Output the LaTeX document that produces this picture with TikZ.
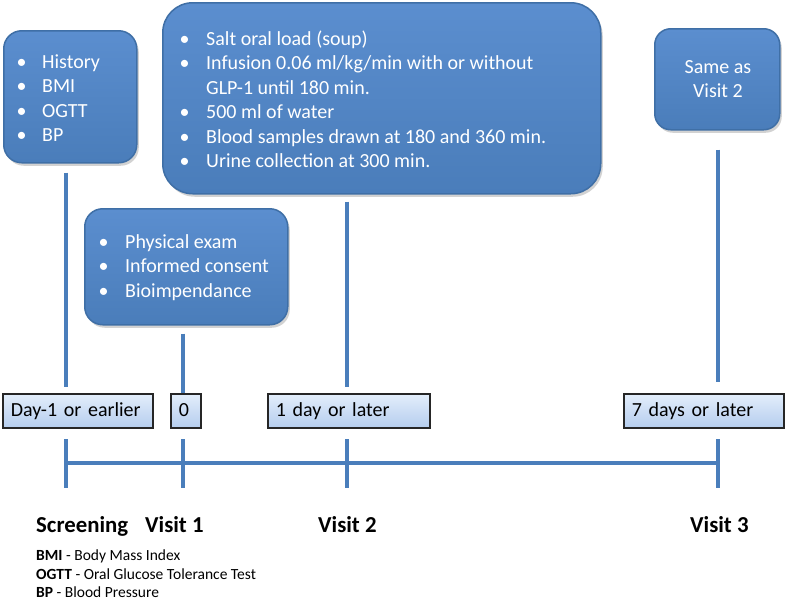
\documentclass[tikz,border=0pt]{standalone}
\usepackage{fontspec}
\setmainfont{Carlito}
\usetikzlibrary{shadows}
\definecolor{boxtop}{HTML}{5B8ECF}
\definecolor{boxbot}{HTML}{4A7DBA}
\definecolor{boxedge}{HTML}{3F6FA6}
\definecolor{linecol}{HTML}{4A7EBB}
\definecolor{labtop}{HTML}{E3EEFB}
\definecolor{labbot}{HTML}{B5CDEE}
\begin{document}
\begin{tikzpicture}[x=1pt,y=-1pt,
  bluebox/.style={draw=boxedge, line width=1.5pt, top color=boxtop, bottom color=boxbot,
    drop shadow={shadow xshift=2pt,shadow yshift=-3pt,opacity=0.35},
    rounded corners=#1, anchor=north west, inner sep=0pt},
  bt/.style={anchor=base west, inner sep=0pt, text=white, font=\fontsize{20}{24.5}\selectfont},
  labbox/.style={draw=black!85, line width=1.6pt, top color=labtop, bottom color=labbot,
    anchor=north west, inner xsep=8pt, inner ysep=0pt, minimum height=34pt,
    text width=#1-16pt, align=left, text height=14pt, text depth=2pt,
    font=\fontsize{20}{24}\selectfont},
  conn/.style={draw=linecol, line width=4pt},
  head/.style={anchor=base west, inner sep=0pt, font=\bfseries\fontsize{22.8}{26}\selectfont},
  leg/.style={anchor=base west, inner sep=0pt, font=\fontsize{15.5}{18}\selectfont}]
\fill[white] (0,0) rectangle (787,600);
\useasboundingbox (0,0) rectangle (787,600);

% blue boxes
\node[bluebox=18pt, minimum width=133pt, minimum height=132pt] (hist) at (3,30) {};
\node[bluebox=30pt, minimum width=438pt, minimum height=191pt] (vis2) at (162,2) {};
\node[bluebox=16pt, minimum width=125pt, minimum height=101pt] (vis3) at (654,28) {};
\node[bluebox=18pt, minimum width=203pt, minimum height=116pt] (phys) at (84,208) {};

% box texts
\node[bt] (histtext) at (16.5,68) {\begin{tabular}[t]{@{}p{25.5pt}@{}l@{}}
\textbullet & History\\ \textbullet & BMI\\ \textbullet & OGTT\\ \textbullet & BP\end{tabular}};
\node[bt] (vis2text) at (179.5,45) {\begin{tabular}[t]{@{}p{26.5pt}@{}l@{}}
\textbullet & Salt oral load (soup)\\
\textbullet & Infusion 0.06 ml/kg/min with or without\\
 & GLP-1 until 180 min.\\
\textbullet & 500 ml of water\\
\textbullet & Blood samples drawn at 180 and 360 min.\\
\textbullet & Urine collection at 300 min.\end{tabular}};
\node[bt, anchor=base] (vis3text) at (718,73) {\begin{tabular}[t]{@{}c@{}}Same as\\Visit 2\end{tabular}};
\node[bt] (phystext) at (98.5,248) {\begin{tabular}[t]{@{}p{26.5pt}@{}l@{}}
\textbullet & Physical exam\\ \textbullet & Informed consent\\ \textbullet & Bioimpendance\end{tabular}};

% label boxes
\node[labbox=150pt, minimum width=150pt] (lab1) at (2,393) {Day-1 or earlier};
\node[labbox=30pt, minimum width=30pt, inner xsep=6pt] (lab2) at (170,393) {0};
\node[labbox=162pt, minimum width=162pt] (lab3) at (267,393) {1 day or later};
\node[labbox=160pt, minimum width=160pt] (lab4) at (623,393) {7 days or later};

% timeline coordinates
\coordinate (t1) at (66,463);
\coordinate (t2) at (183,463);
\coordinate (t3) at (347,463);
\coordinate (t4) at (718,463);
\coordinate (t1a) at (66,439);  \coordinate (t1b) at (66,488);
\coordinate (t2a) at (183,439); \coordinate (t2b) at (183,488);
\coordinate (t3a) at (347,439); \coordinate (t3b) at (347,488);
\coordinate (t4a) at (718,439); \coordinate (t4b) at (718,488);

% connectors
\draw[conn] ([yshift=-9pt]hist.south -| t1) -- ([yshift=6pt]lab1.north -| t1);
\draw[conn] ([yshift=-8pt]phys.south -| t2) -- (lab2.north -| t2);
\draw[conn] ([yshift=-7pt]vis2.south -| t3) -- ([yshift=6pt]lab3.north -| t3);
\draw[conn] ([yshift=-19pt]vis3.south -| t4) -- ([yshift=11pt]lab4.north -| t4);

% timeline
\draw[conn] (t1) -- (t4);
\draw[conn] (t1a) -- (t1b);
\draw[conn] (t2a) -- (t2b);
\draw[conn] (t3a) -- (t3b);
\draw[conn] (t4a) -- (t4b);

% headings
\node[head] (scr) at (36,532) {Screening};
\node[head] (v1) at (145,532) {Visit 1};
\node[head] (v2) at (318,532) {Visit 2};
\node[head] (v3) at (690,532) {Visit 3};

% legend
\node[leg] (leg1) at (36,560) {\textbf{BMI} - Body Mass Index};
\node[leg] (leg2) at (36,579) {\textbf{OGTT} - Oral Glucose Tolerance Test};
\node[leg] (leg3) at (36,597) {\textbf{BP} - Blood Pressure};
\end{tikzpicture}
\end{document}
